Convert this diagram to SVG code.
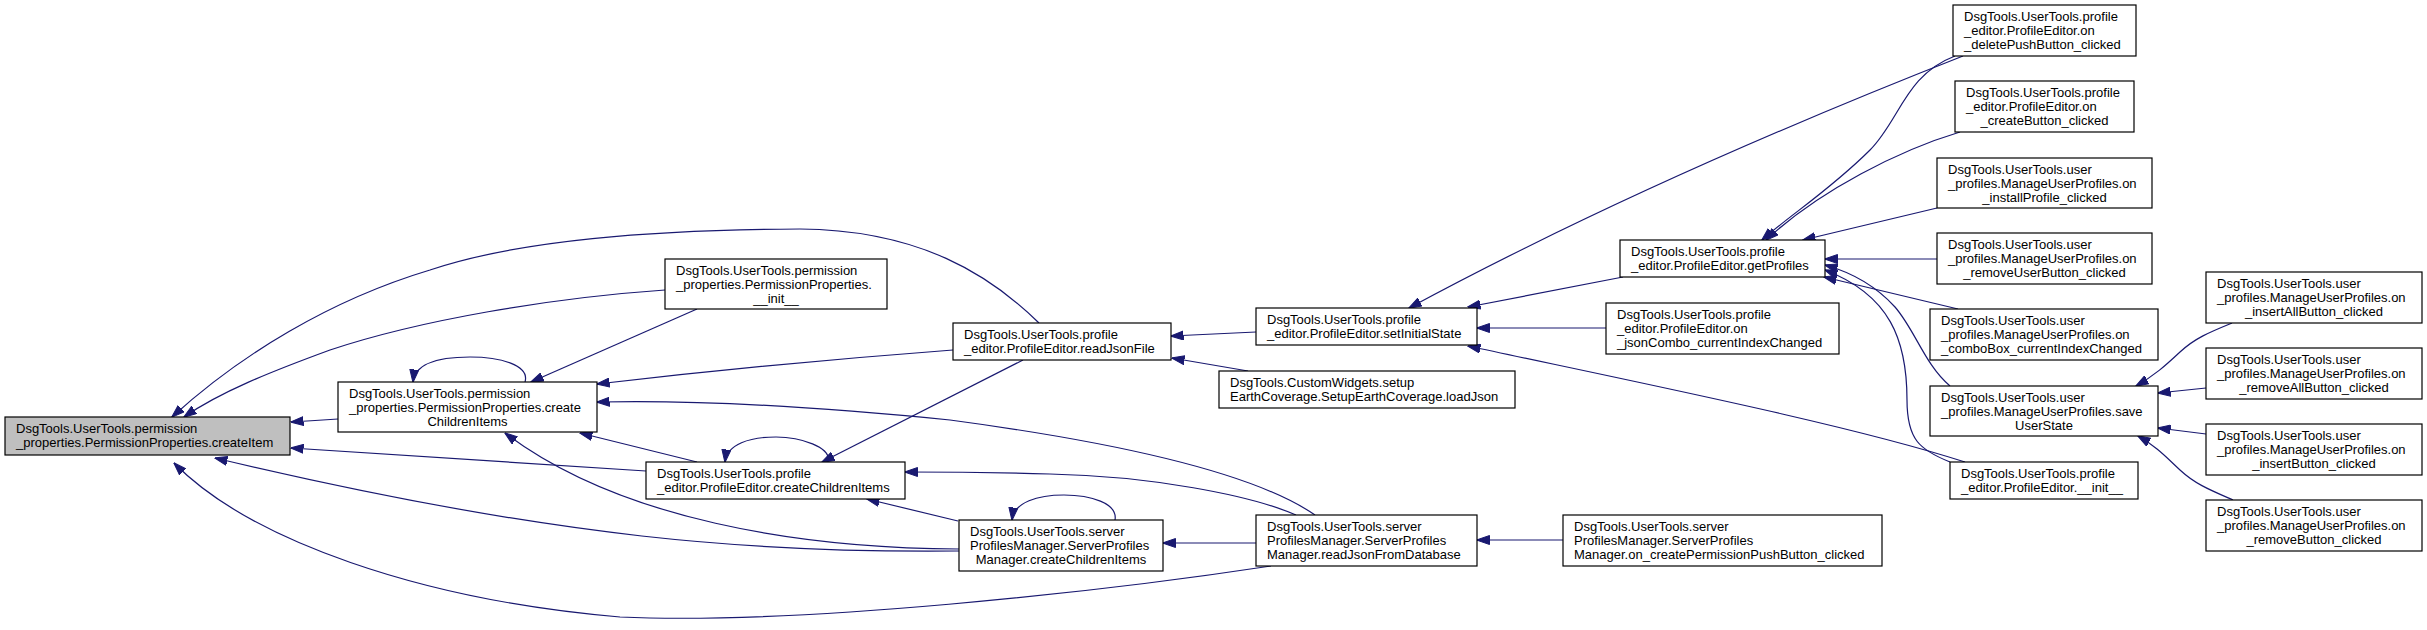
<svg xmlns="http://www.w3.org/2000/svg" width="2427" height="630" viewBox="0 0 2427 630">
<defs>
<style>
.n rect{fill:#ffffff;stroke:#000000;stroke-width:1.2}
.n.hl rect{fill:#bfbfbf}
.n text{font-family:"Liberation Sans",Arial,Helvetica,sans-serif;font-size:13px;fill:#000000}
.n text.c{text-anchor:middle}
.e path{fill:none;stroke:#191970;stroke-width:1.2;marker-end:url(#ah)}
</style>
<marker id="ah" viewBox="0 0 13 10" refX="12.5" refY="5" markerWidth="13" markerHeight="10" markerUnits="userSpaceOnUse" orient="auto">
<path d="M0,0.5 L13,5 L0,9.5 z" fill="#191970" stroke="#191970" stroke-width="1"/>
</marker>
</defs>
<rect x="0" y="0" width="2427" height="630" fill="#ffffff"/>
<g id="connectors" class="e">
<path d="M338,419 C320,420 305,421 291,422"/>
<path d="M646,471 C520,463 400,455 291,448"/>
<path d="M959,551 C760,553 560,540 215,458"/>
<path d="M1271,566 C1100,592 800,625 620,617 C420,600 250,540 174,463"/>
<path d="M1039,323 C990,275 920,230 800,229 C650,230 520,240 430,270 C330,300 240,355 172,417"/>
<path d="M665,290 C550,298 420,320 330,350 C270,372 220,392 184,417"/>
<path d="M525,382 C530,365 500,357 470,357 C440,357 415,363 413,382"/>
<path d="M697,309 L531,382"/>
<path d="M953,350 C820,360 700,372 597,384"/>
<path d="M1315,515 C1250,470 1100,440 950,420 C800,405 680,400 597,402"/>
<path d="M697,462 L580,433"/>
<path d="M959,549 C800,548 620,520 505,433"/>
<path d="M828,462 C832,447 800,437 776,437 C750,437 727,444 725,462"/>
<path d="M1023,360 L822,462"/>
<path d="M1296,515 C1250,495 1150,476 1050,474 C980,472 940,472 905,472"/>
<path d="M958,521 L867,499"/>
<path d="M1115,520 C1118,503 1090,495 1064,495 C1038,495 1014,502 1012,520"/>
<path d="M1256,543 L1163,543"/>
<path d="M1256,332 L1171,336"/>
<path d="M1248,371 L1172,358"/>
<path d="M1563,540 L1477,540"/>
<path d="M1623,277 L1468,307"/>
<path d="M1963,56 C1800,120 1600,205 1409,308"/>
<path d="M1606,328 L1477,328"/>
<path d="M1965,462 C1850,425 1650,385 1468,346"/>
<path d="M1955,56 C1905,75 1900,120 1870,150 C1830,190 1790,215 1762,240"/>
<path d="M1960,132 C1900,150 1820,190 1766,240"/>
<path d="M1937,208 L1803,240"/>
<path d="M1937,259 L1825,259"/>
<path d="M1958,309 L1824,277"/>
<path d="M1950,386 C1925,365 1915,330 1895,307 C1875,285 1850,272 1825,265"/>
<path d="M1950,462 C1920,450 1907,440 1907,400 C1907,340 1890,295 1825,270"/>
<path d="M2232,323 C2210,332 2195,338 2180,352 C2165,366 2155,375 2136,386"/>
<path d="M2206,388 L2158,393"/>
<path d="M2206,434 L2158,428"/>
<path d="M2233,500 C2210,490 2195,484 2180,470 C2165,456 2157,447 2138,436"/>
</g>
<g id="n1" class="n hl"><rect x="5" y="417" width="285" height="38"/><text x="16" y="433">DsgTools.UserTools.permission</text><text x="16" y="447">_properties.PermissionProperties.createItem</text></g>
<g id="n2" class="n"><rect x="338" y="382" width="259" height="50"/><text x="349" y="398">DsgTools.UserTools.permission</text><text x="349" y="412">_properties.PermissionProperties.create</text><text class="c" x="467.5" y="426">ChildrenItems</text></g>
<g id="n3" class="n"><rect x="665" y="259" width="222" height="50"/><text x="676" y="275">DsgTools.UserTools.permission</text><text x="676" y="289">_properties.PermissionProperties.</text><text class="c" x="776" y="303">__init__</text></g>
<g id="n4" class="n"><rect x="646" y="462" width="259" height="37"/><text x="657" y="478">DsgTools.UserTools.profile</text><text x="657" y="492">_editor.ProfileEditor.createChildrenItems</text></g>
<g id="n5" class="n"><rect x="959" y="520" width="204" height="51"/><text x="970" y="536">DsgTools.UserTools.server</text><text x="970" y="550">ProfilesManager.ServerProfiles</text><text class="c" x="1061" y="564">Manager.createChildrenItems</text></g>
<g id="n6" class="n"><rect x="953" y="323" width="218" height="37"/><text x="964" y="339">DsgTools.UserTools.profile</text><text x="964" y="353">_editor.ProfileEditor.readJsonFile</text></g>
<g id="n7" class="n"><rect x="1256" y="515" width="221" height="51"/><text x="1267" y="531">DsgTools.UserTools.server</text><text x="1267" y="545">ProfilesManager.ServerProfiles</text><text x="1267" y="559">Manager.readJsonFromDatabase</text></g>
<g id="n8" class="n"><rect x="1256" y="308" width="221" height="37"/><text x="1267" y="324">DsgTools.UserTools.profile</text><text x="1267" y="338">_editor.ProfileEditor.setInitialState</text></g>
<g id="n9" class="n"><rect x="1219" y="371" width="296" height="37"/><text x="1230" y="387">DsgTools.CustomWidgets.setup</text><text x="1230" y="401">EarthCoverage.SetupEarthCoverage.loadJson</text></g>
<g id="n10" class="n"><rect x="1563" y="515" width="319" height="51"/><text x="1574" y="531">DsgTools.UserTools.server</text><text x="1574" y="545">ProfilesManager.ServerProfiles</text><text x="1574" y="559">Manager.on_createPermissionPushButton_clicked</text></g>
<g id="n11" class="n"><rect x="1620" y="240" width="205" height="37"/><text x="1631" y="256">DsgTools.UserTools.profile</text><text x="1631" y="270">_editor.ProfileEditor.getProfiles</text></g>
<g id="n12" class="n"><rect x="1606" y="303" width="233" height="51"/><text x="1617" y="319">DsgTools.UserTools.profile</text><text x="1617" y="333">_editor.ProfileEditor.on</text><text x="1617" y="347">_jsonCombo_currentIndexChanged</text></g>
<g id="n13" class="n"><rect x="1950" y="462" width="188" height="37"/><text x="1961" y="478">DsgTools.UserTools.profile</text><text x="1961" y="492">_editor.ProfileEditor.__init__</text></g>
<g id="n14" class="n"><rect x="1953" y="5" width="183" height="51"/><text x="1964" y="21">DsgTools.UserTools.profile</text><text x="1964" y="35">_editor.ProfileEditor.on</text><text x="1964" y="49">_deletePushButton_clicked</text></g>
<g id="n15" class="n"><rect x="1955" y="81" width="179" height="51"/><text x="1966" y="97">DsgTools.UserTools.profile</text><text x="1966" y="111">_editor.ProfileEditor.on</text><text class="c" x="2044.5" y="125">_createButton_clicked</text></g>
<g id="n16" class="n"><rect x="1937" y="158" width="215" height="50"/><text x="1948" y="174">DsgTools.UserTools.user</text><text x="1948" y="188">_profiles.ManageUserProfiles.on</text><text class="c" x="2044.5" y="202">_installProfile_clicked</text></g>
<g id="n17" class="n"><rect x="1937" y="233" width="215" height="51"/><text x="1948" y="249">DsgTools.UserTools.user</text><text x="1948" y="263">_profiles.ManageUserProfiles.on</text><text class="c" x="2044.5" y="277">_removeUserButton_clicked</text></g>
<g id="n18" class="n"><rect x="1930" y="309" width="228" height="51"/><text x="1941" y="325">DsgTools.UserTools.user</text><text x="1941" y="339">_profiles.ManageUserProfiles.on</text><text x="1941" y="353">_comboBox_currentIndexChanged</text></g>
<g id="n19" class="n"><rect x="1930" y="386" width="228" height="50"/><text x="1941" y="402">DsgTools.UserTools.user</text><text x="1941" y="416">_profiles.ManageUserProfiles.save</text><text class="c" x="2044" y="430">UserState</text></g>
<g id="n20" class="n"><rect x="2206" y="272" width="216" height="51"/><text x="2217" y="288">DsgTools.UserTools.user</text><text x="2217" y="302">_profiles.ManageUserProfiles.on</text><text class="c" x="2314" y="316">_insertAllButton_clicked</text></g>
<g id="n21" class="n"><rect x="2206" y="348" width="216" height="51"/><text x="2217" y="364">DsgTools.UserTools.user</text><text x="2217" y="378">_profiles.ManageUserProfiles.on</text><text class="c" x="2314" y="392">_removeAllButton_clicked</text></g>
<g id="n22" class="n"><rect x="2206" y="424" width="216" height="51"/><text x="2217" y="440">DsgTools.UserTools.user</text><text x="2217" y="454">_profiles.ManageUserProfiles.on</text><text class="c" x="2314" y="468">_insertButton_clicked</text></g>
<g id="n23" class="n"><rect x="2206" y="500" width="216" height="51"/><text x="2217" y="516">DsgTools.UserTools.user</text><text x="2217" y="530">_profiles.ManageUserProfiles.on</text><text class="c" x="2314" y="544">_removeButton_clicked</text></g>
</svg>
